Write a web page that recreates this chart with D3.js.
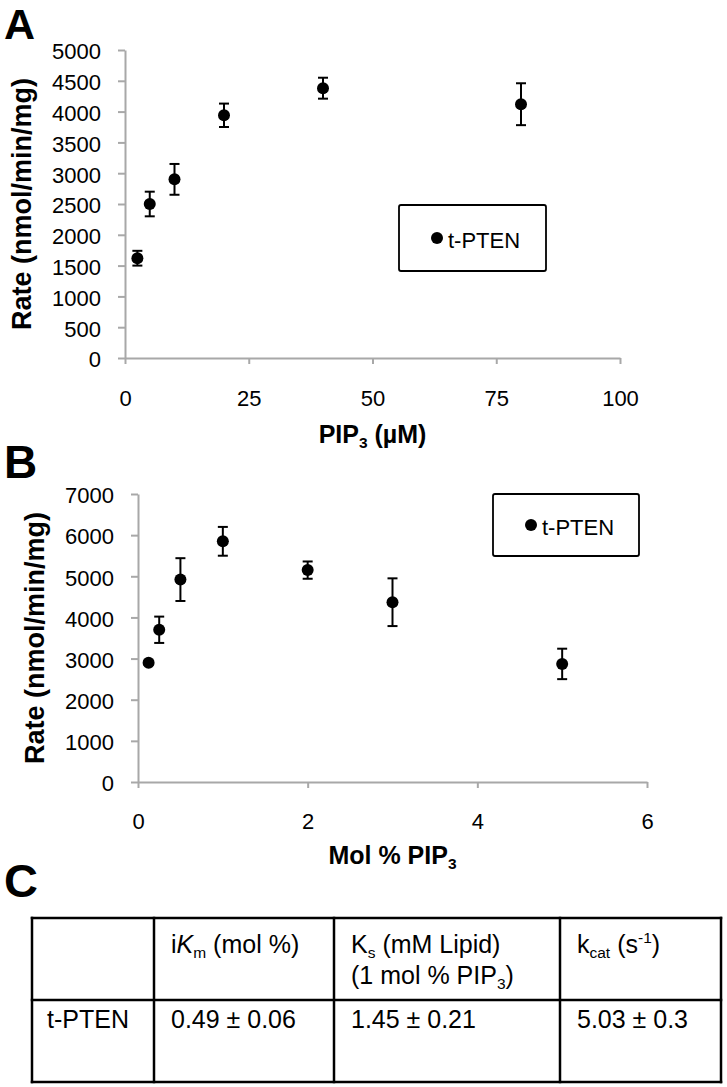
<!DOCTYPE html>
<html><head><meta charset="utf-8">
<script src="https://cdn.jsdelivr.net/npm/d3@7"></script>
<style>
body{margin:0;background:#fff}
svg text{font-family:"Liberation Sans",Arial,Helvetica,sans-serif;fill:#000}
</style>
</head><body>
<svg id="c" width="727" height="1087"></svg>
<script>
// ---------- data ----------
const pipConc = [2.5, 5, 10, 20, 40, 80];
const rateA   = [1620, 2500, 2900, 3940, 4380, 4120];
const errA    = [120, 200, 250, 190, 170, 340];
const ticksAX = [0, 25, 50, 75, 100];
const ticksAY = [0, 500, 1000, 1500, 2000, 2500, 3000, 3500, 4000, 4500, 5000];

const molPct  = [0.125, 0.25, 0.5, 1, 2, 3, 5];
const rateB   = [2900, 3700, 4920, 5850, 5150, 4370, 2870];
const errB    = [50, 320, 520, 350, 210, 580, 370];
const ticksBX = [0, 2, 4, 6];
const ticksBY = [0, 1000, 2000, 3000, 4000, 5000, 6000, 7000];

const seriesName = "t-PTEN";
const yTitle = "Rate (nmol/min/mg)";

// table C
const tableHeader = [
  [[]],
  [[{t:"i"},{t:"K",it:true},{t:"m",sub:true},{t:" (mol %)"}]],
  [[{t:"K"},{t:"s",sub:true},{t:" (mM Lipid)"}],[{t:"(1 mol % PIP"},{t:"3",sub:true},{t:")"}]],
  [[{t:"k"},{t:"cat",sub:true},{t:" (s"},{t:"-1",sup:true},{t:")"}]]
];
const tableRow = ["t-PTEN", "0.49 ± 0.06", "1.45 ± 0.21", "5.03 ± 0.3"];

// ---------- drawing ----------
const svg = d3.select("#c");
const AXIS = "#a8a8a8";
const SUB = 0.2, SUP = 0.42;

// appends segments as tspans; first tspan may carry x/dy for a new line
function richText(sel, segs, size, lineX, lineDy) {
  segs.forEach((s, i) => {
    const sp = sel.append("tspan").text(s.t);
    if (s.it) sp.attr("font-style", "italic");
    let dy = 0;
    if (i === 0 && lineX !== undefined) { sp.attr("x", lineX); dy += lineDy; }
    if (s.sub) { sp.attr("font-size", size*0.62); dy += size*SUB; }
    if (s.sup) { sp.attr("font-size", size*0.62); dy -= size*SUP; }
    if (i > 0) {
      const p = segs[i-1];
      if (p.sub) dy -= size*SUB;
      if (p.sup) dy += size*SUP;
    }
    if (dy) sp.attr("dy", dy);
  });
  const last = segs[segs.length-1];
  return last.sub ? -size*SUB : last.sup ? size*SUP : 0;
}

function panel(o) {
  const g = svg.append("g");
  const x = d3.scaleLinear().domain(o.xDomain).range([o.x0, o.x1]);
  const y = d3.scaleLinear().domain(o.yDomain).range([o.y0, o.y1]);

  const ax = g.append("g").attr("transform", `translate(${o.x0},0)`)
    .call(d3.axisLeft(y).tickValues(o.yTicks).tickSize(7).tickSizeOuter(0).tickPadding(17).tickFormat(d3.format("d")));
  ax.select(".domain").attr("stroke", AXIS).attr("stroke-width", 2);
  ax.selectAll(".tick line").attr("stroke", AXIS).attr("stroke-width", 2);
  ax.selectAll(".tick text").attr("font-size", 22).attr("fill", "#000").attr("dy", "0.40em");

  const bx = g.append("g").attr("transform", `translate(0,${o.y0})`)
    .call(d3.axisBottom(x).tickValues(o.xTicks).tickSize(6).tickSizeOuter(0).tickPadding(o.xPad).tickFormat(d3.format("d")));
  bx.select(".domain").attr("stroke", AXIS).attr("stroke-width", 2);
  bx.selectAll(".tick line").attr("stroke", AXIS).attr("stroke-width", 2);
  bx.selectAll(".tick text").attr("font-size", 22).attr("fill", "#000");
  ax.attr("font-family", null); bx.attr("font-family", null);

  // y title
  g.append("text")
    .attr("transform", `translate(${o.yTitleX},${(o.y0+o.y1)/2}) rotate(-90)`)
    .attr("text-anchor", "middle").attr("font-weight", "bold").attr("font-size", 27)
    .text(yTitle);
  // x title
  const xt = g.append("text").attr("x", (o.x0+o.x1)/2).attr("y", o.xTitleY)
    .attr("text-anchor", "middle").attr("font-weight", "bold").attr("font-size", 25);
  richText(xt, o.xTitle, 25);

  // error bars + points
  const data = o.xs.map((d, i) => ({x: d, y: o.ys[i], e: o.es[i]}));
  const eb = g.append("g").attr("stroke", "#000").attr("stroke-width", 2);
  data.forEach(d => {
    const cx = x(d.x), yt = y(d.y + d.e), yb = y(d.y - d.e);
    eb.append("line").attr("x1", cx).attr("x2", cx).attr("y1", yt).attr("y2", yb);
    eb.append("line").attr("x1", cx-5).attr("x2", cx+5).attr("y1", yt).attr("y2", yt);
    eb.append("line").attr("x1", cx-5).attr("x2", cx+5).attr("y1", yb).attr("y2", yb);
  });
  g.append("g").selectAll("circle").data(data).join("circle")
    .attr("cx", d => x(d.x)).attr("cy", d => y(d.y)).attr("r", 6).attr("fill", "#000");

  // legend
  const L = o.legend;
  g.append("rect").attr("x", L.x).attr("y", L.y).attr("width", L.w).attr("height", L.h)
    .attr("rx", 2).attr("fill", "#fff").attr("stroke", "#000").attr("stroke-width", 1.8);
  g.append("circle").attr("cx", L.x + 38).attr("cy", L.y + L.h/2).attr("r", 6).attr("fill", "#000");
  g.append("text").attr("x", L.x + 49).attr("y", L.y + L.h/2 + 10).attr("font-size", 22).text(seriesName);

  // panel letter
  svg.append("text").attr("x", o.letterX).attr("y", o.letterY).attr("font-size", o.letterSize)
    .attr("font-weight", "bold").text(o.letter);
}

panel({
  letter: "A", letterX: 4, letterY: 39, letterSize: 43,
  xDomain: [0, 100], yDomain: [0, 5000], x0: 125, x1: 620, y0: 358, y1: 50,
  xTicks: ticksAX, yTicks: ticksAY, xPad: 26, yTitleX: 31, xTitleY: 443,
  xTitle: [{t:"PIP"},{t:"3",sub:true},{t:" (µM)"}],
  xs: pipConc, ys: rateA, es: errA,
  legend: {x: 399, y: 205, w: 147, h: 66}
});

panel({
  letter: "B", letterX: 4, letterY: 478, letterSize: 46,
  xDomain: [0, 6], yDomain: [0, 7000], x0: 138, x1: 647, y0: 782, y1: 494,
  xTicks: ticksBX, yTicks: ticksBY, xPad: 25, yTitleX: 44, xTitleY: 864,
  xTitle: [{t:"Mol % PIP"},{t:"3",sub:true}],
  xs: molPct, ys: rateB, es: errB,
  legend: {x: 493, y: 494, w: 146, h: 62}
});

// ---------- panel C table ----------
svg.append("text").attr("x", 4).attr("y", 897).attr("font-size", 47).attr("font-weight", "bold").text("C");
const colX = [32, 154, 334, 560, 721];
const rowY = [918, 1000, 1082];
const tg = svg.append("g");
const TS = 25;
tableHeader.forEach((lines, ci) => {
  if (!lines[0].length) return;
  const tx = colX[ci] + 17;
  const t = tg.append("text").attr("x", tx).attr("y", 953).attr("font-size", TS);
  let carry = 0;
  lines.forEach((segs, li) => {
    carry = richText(t, segs, TS, li === 0 ? undefined : tx, li === 0 ? 0 : 31 + carry);
  });
});
tableRow.forEach((v, ci) => {
  tg.append("text").attr("x", colX[ci] + (ci === 0 ? 15 : 17)).attr("y", 1028).attr("font-size", TS).text(v);
});
const grid = tg.append("g").attr("stroke", "#000").attr("stroke-width", 2.5).attr("stroke-linecap", "square");
rowY.forEach(yv => grid.append("line").attr("x1", colX[0]).attr("x2", colX[colX.length-1]).attr("y1", yv).attr("y2", yv));
colX.forEach(xv => grid.append("line").attr("x1", xv).attr("x2", xv).attr("y1", rowY[0]).attr("y2", rowY[rowY.length-1]));
</script>
</body></html>
